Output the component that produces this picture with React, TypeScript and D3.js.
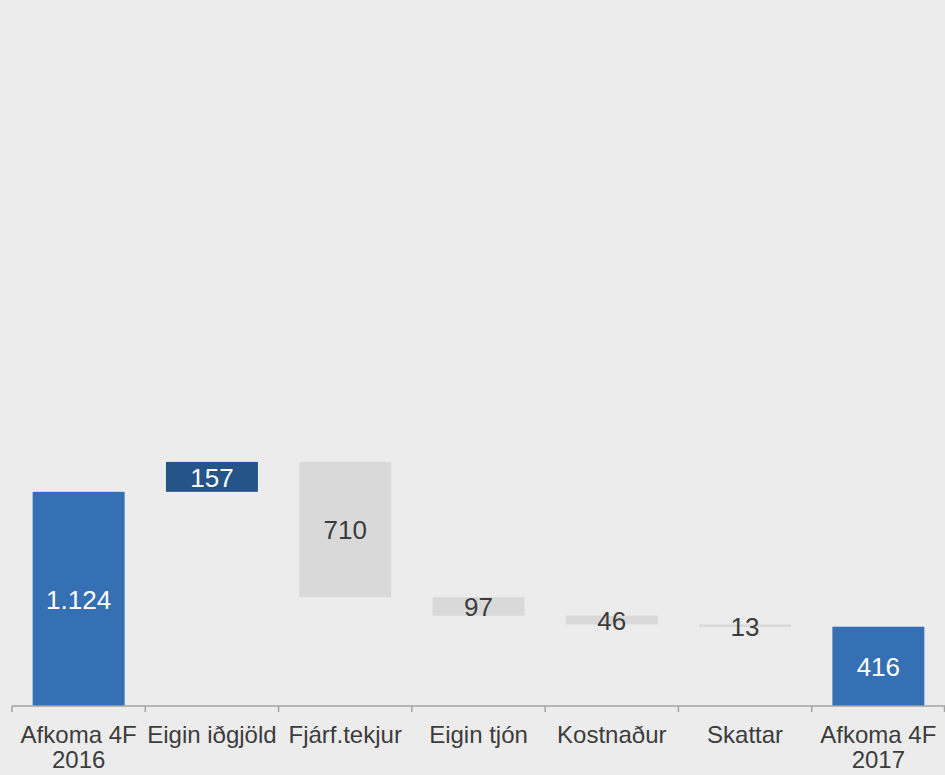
import React from "react";
import * as d3 from "d3";

const categories = ["Afkoma 4F 2016", "Eigin iðgjöld", "Fjárf.tekjur", "Eigin tjón", "Kostnaður", "Skattar", "Afkoma 4F 2017"];
const categoryLines = [["Afkoma 4F", "2016"], ["Eigin iðgjöld"], ["Fjárf.tekjur"], ["Eigin tjón"], ["Kostnaður"], ["Skattar"], ["Afkoma 4F", "2017"]];
const values = [1124, 157, -710, -97, -46, -13, 416];
const kinds = ["total", "increase", "decrease", "decrease", "decrease", "decrease", "total"];
const valueLabels = ["1.124", "157", "710", "97", "46", "13", "416"];

const W = 945;
const H = 775;
const BASE = 706;

export default function App() {
  React.useEffect(() => {
    document.body.style.margin = "0";
    document.body.style.background = "#ececec";
  }, []);

  const x = d3.scaleBand<string>().domain(categories).range([12, 945]).paddingInner(0.31).paddingOuter(0.155);
  const y = d3.scaleLinear().domain([0, 3700]).range([BASE, 1]);

  let running = 0;
  const bars = categories.map((c, i) => {
    const v = values[i];
    let y0: number, y1: number;
    if (kinds[i] === "total") {
      y0 = 0;
      y1 = v;
      running = v;
    } else {
      y0 = running;
      y1 = running + v;
      running = y1;
    }
    return { c, i, lo: Math.min(y0, y1), hi: Math.max(y0, y1), kind: kinds[i] };
  });

  const fill = (k: string) => (k === "total" ? "#3470b3" : k === "increase" ? "#255488" : "#d9d9d9");
  const step = x.step();
  const font = "'Liberation Sans', Arial, sans-serif";
  const textColor = "#3c3c3c";

  return (
    <svg width={W} height={H} style={{ display: "block", position: "absolute", left: 0, top: 0, background: "#ececec" }}>
      <rect x={0} y={0} width={W} height={H} fill="#ececec" />
      {bars.map((b) => {
        const top = y(b.hi);
        const bottom = y(b.lo);
        const h = Math.max(bottom - top, 1.5);
        const cx = (x(b.c) as number) + x.bandwidth() / 2;
        return (
          <g key={b.c}>
            <rect x={x(b.c)} y={top} width={x.bandwidth()} height={h} fill={fill(b.kind)} />
            <text
              x={cx}
              y={top + h / 2}
              dy="0.38em"
              textAnchor="middle"
              fontFamily={font}
              fontSize={26}
              fill={b.kind === "decrease" ? textColor : "#ffffff"}
            >
              {valueLabels[b.i]}
            </text>
          </g>
        );
      })}
      <line x1={12} x2={945} y1={BASE} y2={BASE} stroke="#a3a3a3" strokeWidth={1.5} />
      {d3.range(categories.length + 1).map((i) => {
        const tx = Math.min(12 + i * step, 944.5);
        return <line key={i} x1={tx} x2={tx} y1={BASE} y2={BASE + 6} stroke="#a3a3a3" strokeWidth={1.5} />;
      })}
      {categories.map((c, i) => {
        const cx = (x(c) as number) + x.bandwidth() / 2;
        return (
          <text key={c} x={cx} y={743} textAnchor="middle" fontFamily={font} fontSize={24} fill={textColor}>
            {categoryLines[i].map((l, j) => (
              <tspan key={j} x={cx} y={743 + j * 25}>
                {l}
              </tspan>
            ))}
          </text>
        );
      })}
    </svg>
  );
}
